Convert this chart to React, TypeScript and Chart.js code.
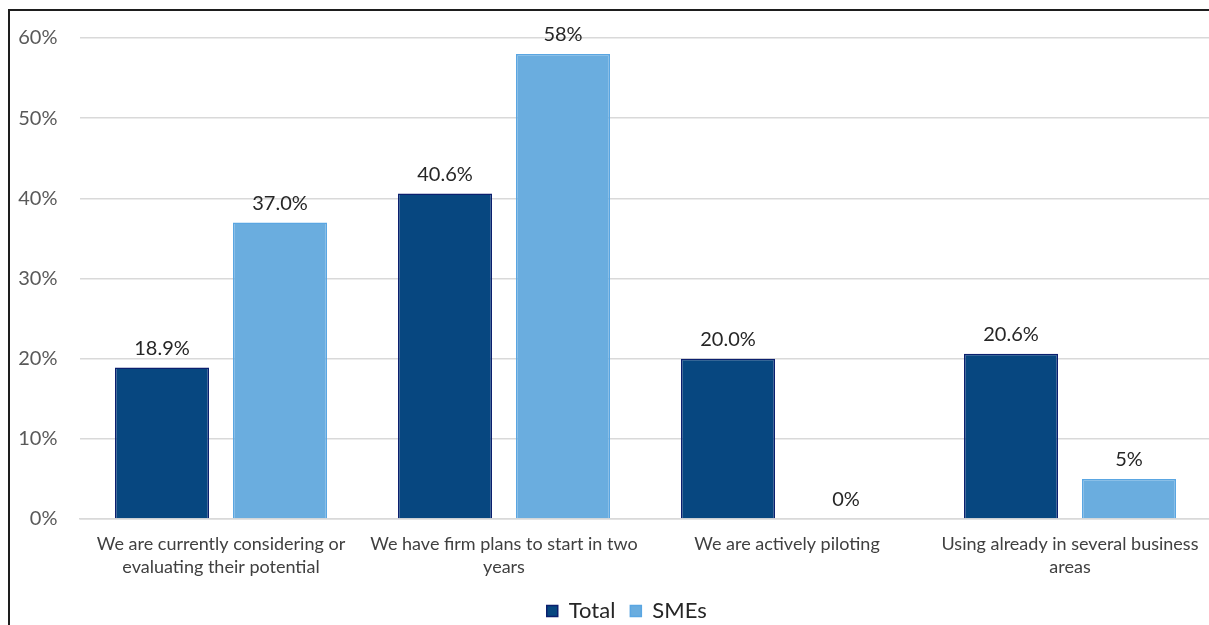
import React, { useEffect, useRef } from "react";
import { Chart, registerables } from "chart.js";

Chart.register(...registerables);

const categories: (string | string[])[] = [
  ["We are currently considering or", "evaluating their potential"],
  ["We have firm plans to start in two", "years"],
  "We are actively piloting",
  ["Using already in several business", "areas"],
];
const totalValues = [18.9, 40.6, 20.0, 20.6];
const smeValues = [37.0, 58, 0, 5];
const totalLabels = ["18.9%", "40.6%", "20.0%", "20.6%"];
const smeLabels = ["37.0%", "58%", "0%", "5%"];
const yTicks = [0, 10, 20, 30, 40, 50, 60];

const FONT = "Lato, 'Liberation Sans', sans-serif";
const LEGEND_SHIFT = 16;

const valueLabelPlugin = {
  id: "valueLabels",
  afterLayout(chart: any) {
    const lg = chart.legend;
    if (lg) {
      lg.left += LEGEND_SHIFT;
      lg.right += LEGEND_SHIFT;
    }
  },
  afterDatasetsDraw(chart: any) {
    const ctx = chart.ctx;
    const labelSets = [totalLabels, smeLabels];
    ctx.save();
    ctx.font = `20px ${FONT}`;
    ctx.fillStyle = "#262626";
    ctx.textAlign = "center";
    ctx.textBaseline = "bottom";
    chart.data.datasets.forEach((_ds: any, di: number) => {
      const meta = chart.getDatasetMeta(di);
      meta.data.forEach((bar: any, i: number) => {
        ctx.fillText(labelSets[di][i], bar.x, bar.y - 9);
      });
    });
    ctx.restore();
  },
};

export default function App() {
  const ref = useRef<HTMLCanvasElement | null>(null);
  useEffect(() => {
    if (!ref.current) return;
    const chart = new Chart(ref.current, {
      type: "bar",
      data: {
        labels: categories,
        datasets: [
          {
            label: "Total",
            data: totalValues,
            backgroundColor: "#074780",
            borderColor: "#0b1f6e",
            borderWidth: 1.5,
            barPercentage: 0.797,
            categoryPercentage: 0.834,
          },
          {
            label: "SMEs",
            data: smeValues,
            backgroundColor: "#6aaddf",
            borderColor: "#5aa6e2",
            borderWidth: 1.5,
            barPercentage: 0.797,
            categoryPercentage: 0.834,
          },
        ],
      },
      options: {
        responsive: false,
        animation: false,
        layout: { padding: { top: 27, right: 8.5, left: 0, bottom: 2 } },
        plugins: {
          tooltip: { enabled: false },
          legend: {
            position: "bottom",
            labels: {
              boxWidth: 11,
              boxHeight: 11,
              padding: 15,
              color: "#262626",
              font: { family: FONT, size: 22 },
            },
          },
        },
        scales: {
          x: {
            grid: { display: false },
            border: { display: true, color: "#d9d9d9", width: 1.5 },
            ticks: {
              color: "#404040",
              font: { family: FONT, size: 18, lineHeight: 1.25 },
              maxRotation: 0,
              autoSkip: false,
              padding: 6,
            },
            afterFit: (s: any) => {
              s.height = 66;
            },
          },
          y: {
            min: 0,
            max: 60,
            afterBuildTicks: (s: any) => {
              s.ticks = yTicks.map((v) => ({ value: v }));
            },
            grid: { color: "#d9d9d9", lineWidth: 1.5, drawTicks: false },
            border: { display: false },
            ticks: {
              color: "#595959",
              font: { family: FONT, size: 20 },
              padding: 22,
              callback: (v: any) => `${v}%`,
            },
            afterFit: (s: any) => {
              s.width = 69.5;
              s.paddingTop = 0;
              s.paddingBottom = 0;
            },
          },
        },
      },
      plugins: [valueLabelPlugin],
    });
    return () => chart.destroy();
  }, []);

  return (
    <div
      style={{
        position: "absolute",
        left: 8,
        top: 9,
        width: 1201,
        height: 616,
        overflow: "hidden",
        borderTop: "2px solid #1e1e1e",
        borderLeft: "2px solid #1e1e1e",
        background: "#fff",
      }}
    >
      <canvas ref={ref} width={1210} height={623} style={{ display: "block" }} />
    </div>
  );
}
